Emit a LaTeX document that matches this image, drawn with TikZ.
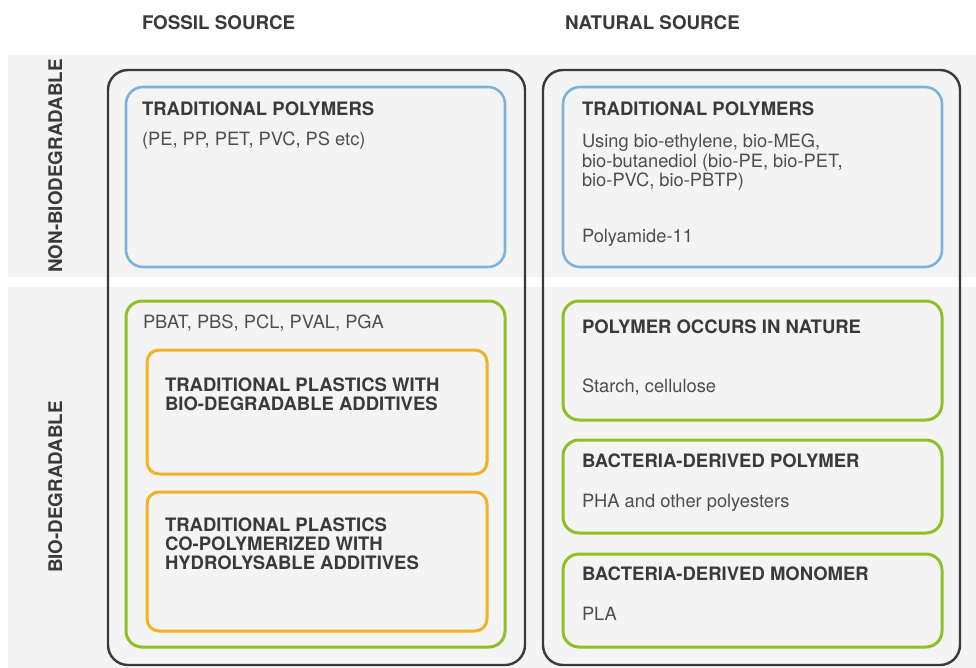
\documentclass[tikz,border=0pt]{standalone}
\usepackage{fontspec}
\setsansfont{TeX Gyre Heros}
\renewcommand{\familydefault}{\sfdefault}
\usetikzlibrary{positioning}

\definecolor{bandgrey}{HTML}{F4F4F4}
\definecolor{framegrey}{HTML}{3A3A3A}
\definecolor{tradblue}{HTML}{7BB3E0}
\definecolor{biogreen}{HTML}{8EC127}
\definecolor{addorange}{HTML}{F1B22A}
\definecolor{titletext}{HTML}{3A3A3A}
\definecolor{bodytext}{HTML}{4E4E4E}

\begin{document}
\begin{tikzpicture}[
		x=1pt, y=1pt,
		every node/.style={inner sep=0pt, outer sep=0pt},
		frame/.style={rectangle, anchor=north west, draw=framegrey, line width=2.4pt, rounded corners=20pt},
		bluebox/.style={rectangle, anchor=north west, draw=tradblue, line width=2.6pt, rounded corners=17pt},
		greenbox/.style={rectangle, anchor=north west, draw=biogreen, line width=3pt, rounded corners=16pt},
		orangebox/.style={rectangle, anchor=north west, draw=addorange, line width=3pt, rounded corners=12pt},
		heading/.style={text=titletext, font=\fontsize{18.8}{20}\selectfont\bfseries},
		title/.style={anchor=base west, align=left, text=titletext, font=\fontsize{18.5}{18.6}\selectfont\bfseries},
		body/.style={anchor=base west, align=left, text=bodytext, font=\fontsize{18.3}{19.5}\selectfont}
	]
	\useasboundingbox (0,0) rectangle (976,-668);
	\fill[white] (0,0) rectangle (976,-668);

	% row bands
	\fill[bandgrey] (8,-55) rectangle (976,-277);
	\fill[bandgrey] (8,-287) rectangle (976,-668);

	% column and row headings (multi-line nodes sit on their last line)
	\node[heading, anchor=base west] (fossilhead) at (142,-30) {FOSSIL SOURCE};
	\node[heading, anchor=base west] (naturalhead) at (565,-30) {NATURAL SOURCE};
	\node[heading, anchor=base, rotate=90] (nonbiohead) at (62,-166) {NON-BIODEGRADABLE};
	\node[heading, anchor=base, rotate=90] (biohead) at (62,-487) {BIO-DEGRADABLE};

	% outer frames
	\node[frame, minimum width=417, minimum height=595] (fossil) at (108,-70) {};
	\node[frame, minimum width=417, minimum height=595] (natural) at (543,-70) {};

	% fossil source
	\node[bluebox, minimum width=379, minimum height=180] (fossiltrad) at (126,-87) {};
	\node[title] (fossiltradtitle) at (142,-116) {TRADITIONAL POLYMERS};
	\node[body] (fossiltradtext) at (142,-146) {(PE, PP, PET, PVC, PS etc)};

	\node[greenbox, minimum width=379, minimum height=346] (fossilbio) at (126,-301) {};
	\node[body] (fossilbiotext) at (143,-328) {PBAT, PBS, PCL, PVAL, PGA};

	\node[orangebox, minimum width=340, minimum height=124] (additives) at (147,-350) {};
	\node[title] (additivestitle) at (165,-410) {TRADITIONAL PLASTICS WITH\\BIO-DEGRADABLE ADDITIVES};

	\node[orangebox, minimum width=340, minimum height=139] (copoly) at (147,-492) {};
	\node[title] (copolytitle) at (165,-569) {TRADITIONAL PLASTICS\\CO-POLYMERIZED WITH\\HYDROLYSABLE ADDITIVES};

	% natural source
	\node[bluebox, minimum width=379, minimum height=180] (naturaltrad) at (563,-87) {};
	\node[title] (naturaltradtitle) at (582,-116) {TRADITIONAL POLYMERS};
	\node[body] (naturaltradtext) at (582,-187) {Using bio-ethylene, bio-MEG,\\bio-butanediol (bio-PE, bio-PET,\\bio-PVC, bio-PBTP)};
	\node[body] (polyamide) at (582,-243) {Polyamide-11};

	\node[greenbox, minimum width=379, minimum height=119] (innature) at (563,-301) {};
	\node[title] (innaturetitle) at (582,-333) {POLYMER OCCURS IN NATURE};
	\node[body] (innaturetext) at (582,-392) {Starch, cellulose};

	\node[greenbox, minimum width=379, minimum height=93] (bactpolymer) at (563,-440) {};
	\node[title] (bactpolymertitle) at (582,-467) {BACTERIA-DERIVED POLYMER};
	\node[body] (bactpolymertext) at (582,-507) {PHA and other polyesters};

	\node[greenbox, minimum width=379, minimum height=93] (bactmonomer) at (563,-554) {};
	\node[title] (bactmonomertitle) at (582,-580) {BACTERIA-DERIVED MONOMER};
	\node[body] (bactmonomertext) at (582,-620) {PLA};
\end{tikzpicture}
\end{document}
